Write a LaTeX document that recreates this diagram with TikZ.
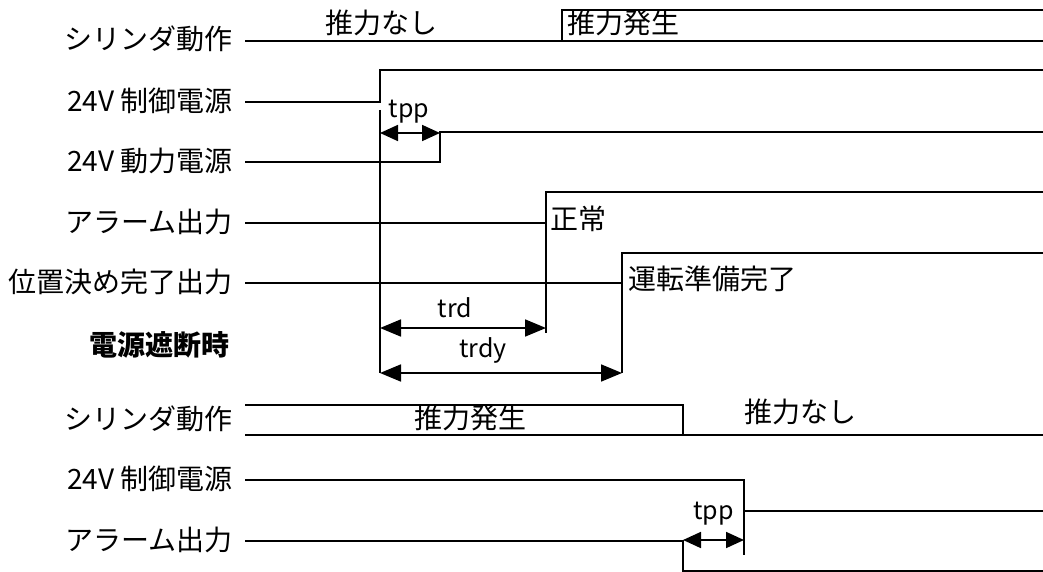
\documentclass[tikz,border=0pt]{standalone}
\usepackage{fontspec}
\setmainfont{Noto Sans CJK JP}
\usetikzlibrary{arrows.meta}

\tikzset{
    sig/.style={line width=1.8pt},
    ext/.style={line width=1.8pt},
    dim/.style={line width=1.8pt, {Triangle[length=21pt,width=17pt]}-{Triangle[length=21pt,width=17pt]}},
    dims/.style={line width=1.8pt, {Triangle[length=18pt,width=16pt]}-{Triangle[length=18pt,width=16pt]}},
    lbl/.style={anchor=east, inner sep=0pt, font=\fontsize{28}{32}\selectfont},
    txt/.style={inner sep=0pt, font=\fontsize{28}{32}\selectfont},
    tm/.style={inner sep=0pt, font=\fontsize{25}{30}\selectfont}
}

\begin{document}
\begin{tikzpicture}[x=1pt, y=-1pt]
    \useasboundingbox (0,0) rectangle (1043,572);

    % labels, power on
    \node[lbl] (cyl1) at (233, 39) {シリンダ動作};
    \node[lbl] (ctl1) at (233, 101) {24V 制御電源};
    \node[lbl] (pwr1) at (233, 161) {24V 動力電源};
    \node[lbl] (alm1) at (233, 222) {アラーム出力};
    \node[lbl] (pos1) at (233, 282) {位置決め完了出力};
    \node[txt, font=\fontsize{28}{32}\selectfont\bfseries] (off) at (159, 345) {電源遮断時};
    % labels, power off
    \node[lbl] (cyl2) at (233, 419) {シリンダ動作};
    \node[lbl] (ctl2) at (233, 479) {24V 制御電源};
    \node[lbl] (alm2) at (233, 540) {アラーム出力};

    % signal points
    \coordinate (s1) at (245, 41);   \coordinate (e1) at (1043, 41);
    \coordinate (a1) at (562, 41);   \coordinate (b1) at (562, 10);   \coordinate (f1) at (1043, 10);
    \coordinate (s2) at (245, 102);  \coordinate (a2) at (380, 102);
    \coordinate (b2) at (380, 70);   \coordinate (f2) at (1043, 70);
    \coordinate (s3) at (245, 162);  \coordinate (a3) at (440, 162);
    \coordinate (b3) at (440, 132);  \coordinate (f3) at (1043, 132);
    \coordinate (s4) at (245, 223);  \coordinate (a4) at (546, 223);
    \coordinate (b4) at (546, 192);  \coordinate (f4) at (1043, 192);
    \coordinate (s5) at (245, 283);  \coordinate (a5) at (622, 283);
    \coordinate (b5) at (622, 253);  \coordinate (f5) at (1043, 253);

    \coordinate (s6) at (245, 405);  \coordinate (a6) at (683, 405);
    \coordinate (b6) at (683, 435);  \coordinate (t6) at (245, 435);  \coordinate (f6) at (1043, 435);
    \coordinate (s7) at (245, 480);  \coordinate (a7) at (744, 480);
    \coordinate (b7) at (744, 511);  \coordinate (f7) at (1043, 511);
    \coordinate (s8) at (245, 541);  \coordinate (a8) at (683, 541);
    \coordinate (b8) at (683, 571);  \coordinate (f8) at (1043, 571);

    % signals
    \draw[sig, line width=2.6pt] (s1) -- (e1);
    \draw[sig] (a1) -- (b1) -- (f1);
    \draw[sig] (s2) -- (a2) -- (b2) -- (f2);
    \draw[sig] (s3) -- (a3) -- (b3) -- (f3);
    \draw[sig] (s4) -- (a4) -- (b4) -- (f4);
    \draw[sig] (s5) -- (a5) -- (b5) -- (f5);
    \draw[sig] (s6) -- (a6) -- (b6);
    \draw[sig] (t6) -- (f6);
    \draw[sig] (s7) -- (a7) -- (b7) -- (f7);
    \draw[sig] (s8) -- (a8) -- (b8) -- (f8);

    % extension lines
    \coordinate (x1) at (380, 110);  \coordinate (x1e) at (380, 373);
    \coordinate (x2e) at (546, 333);
    \coordinate (x3e) at (622, 373);
    \coordinate (x4e) at (744, 555);
    \draw[ext] (x1) -- (x1e);
    \draw[ext] (a4) -- (x2e);
    \draw[ext] (a5) -- (x3e);
    \draw[ext] (a7) -- (x4e);

    % dimensions
    \coordinate (p1) at (380, 133);  \coordinate (q1) at (440, 133);
    \coordinate (p2) at (380, 328);  \coordinate (q2) at (546, 328);
    \coordinate (p3) at (380, 373);  \coordinate (q3) at (622, 373);
    \coordinate (p4) at (683, 540);  \coordinate (q4) at (744, 540);
    \draw[dims] (p1) -- node[tm, above=9pt, xshift=-1pt]{tpp} (q1);
    \draw[dim] (p2) -- node[tm, above=9pt, xshift=-8pt]{trd} (q2);
    \draw[dim] (p3) -- node[tm, above=9pt, xshift=-18pt]{trdy} (q3);
    \draw[dims] (p4) -- node[tm, above=14pt]{tpp} (q4);

    % state texts
    \node[txt] (n1) at (381, 23) {推力なし};
    \node[txt, anchor=west] (g1) at (567, 23) {推力発生};
    \node[txt, anchor=west] (ok) at (550, 219) {正常};
    \node[txt, anchor=west] (rdy) at (628, 279) {運転準備完了};
    \node[txt] (g2) at (470, 418) {推力発生};
    \node[txt] (n2) at (800, 412) {推力なし};
\end{tikzpicture}
\end{document}
